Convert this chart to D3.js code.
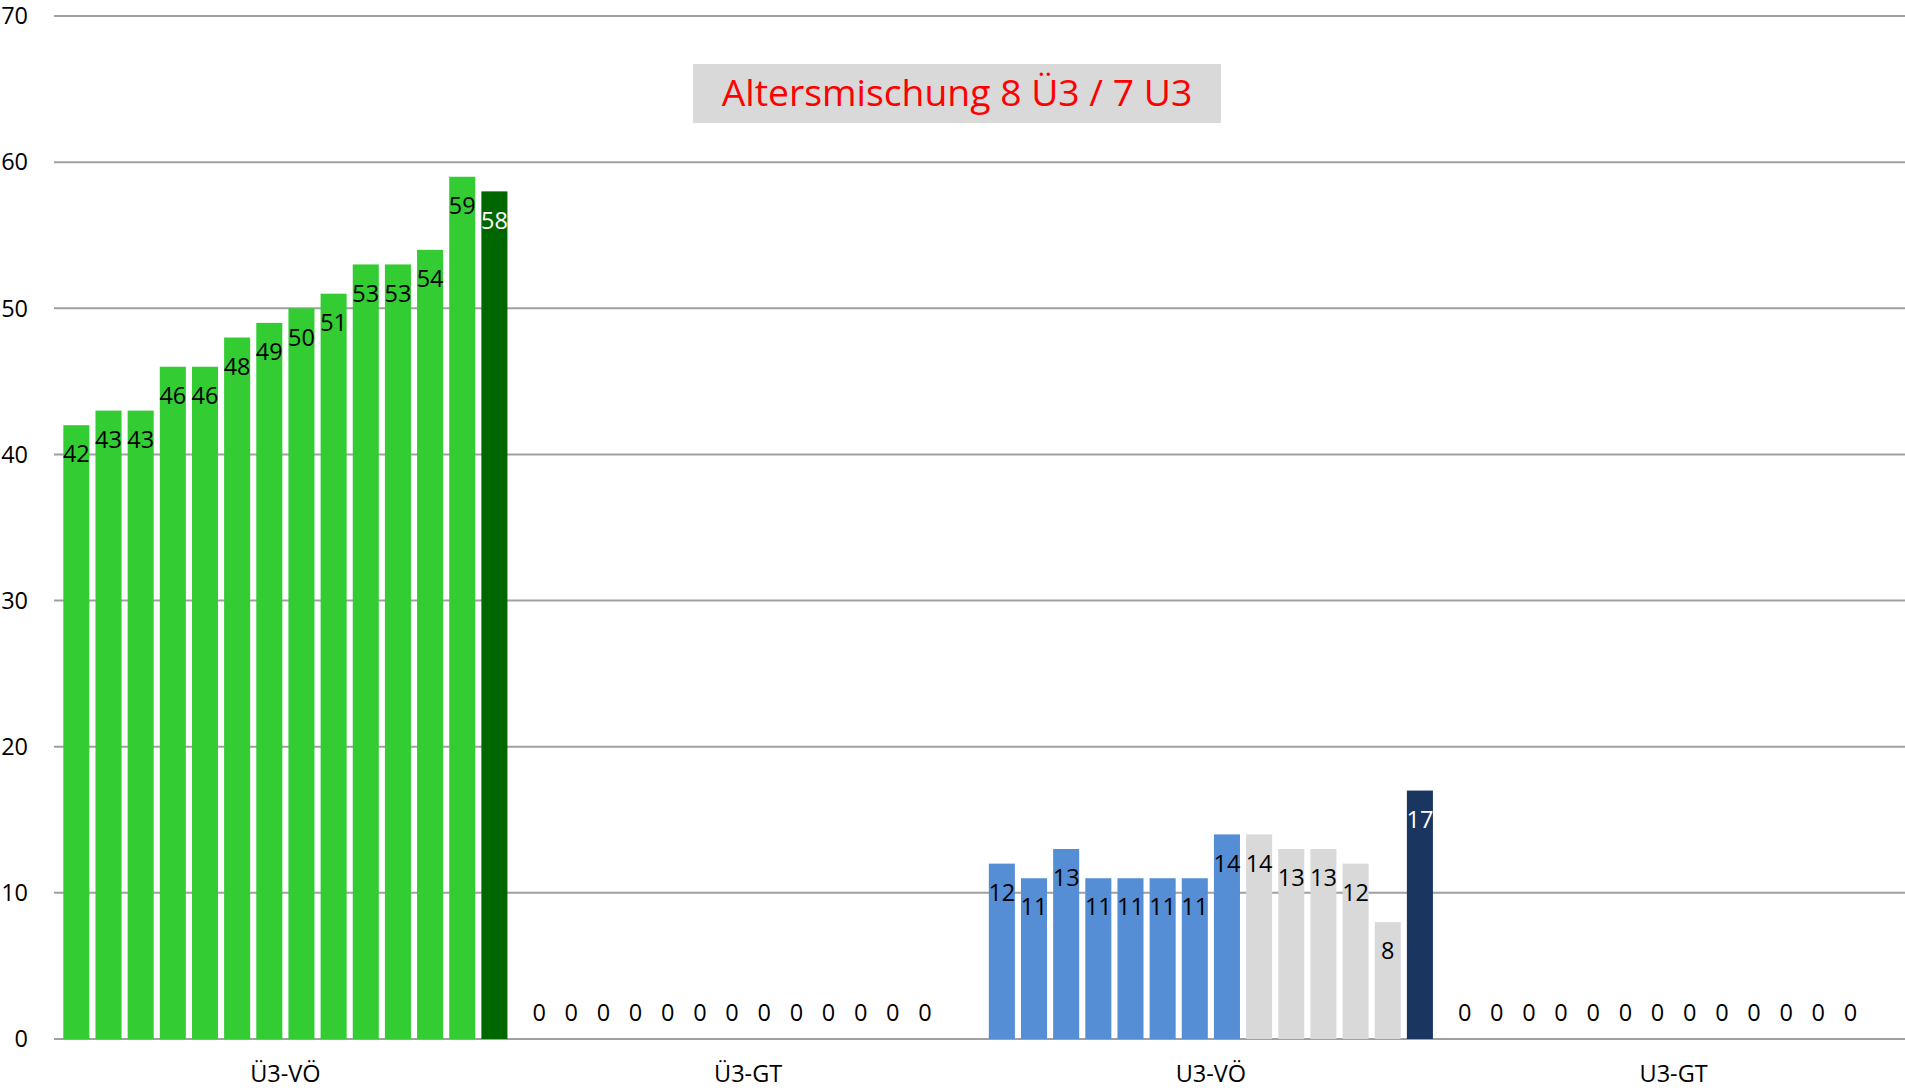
<!DOCTYPE html>
<html>
<head>
<meta charset="utf-8">
<script src="https://cdn.jsdelivr.net/npm/d3@7"></script>
<style>
  body { margin: 0; background: #fff; }
  text { font-family: "Open Sans", "Noto Sans", sans-serif; }
</style>
</head>
<body>
<div id="output"></div>
<script>
    // categories and the 14 values in each
    var categories = ['Ü3-VÖ', 'Ü3-GT', 'U3-VÖ', 'U3-GT'];
    var ue3_voe = [42, 43, 43, 46, 46, 48, 49, 50, 51, 53, 53, 54, 59, 58];
    var ue3_gt = [0, 0, 0, 0, 0, 0, 0, 0, 0, 0, 0, 0, 0, null];
    var u3_voe = [12, 11, 13, 11, 11, 11, 11, 14, 14, 13, 13, 12, 8, 17];
    var u3_gt = [0, 0, 0, 0, 0, 0, 0, 0, 0, 0, 0, 0, 0, null];
    var yTicks = [0, 10, 20, 30, 40, 50, 60, 70];
    var title = 'Altersmischung 8 Ü3 / 7 U3';

    var light_green = '#33cc33', dark_green = '#006600';
    var blue = '#558ed5', grey = '#d9d9d9', navy = '#1a3660';

    var ue3_colors = d3.range(13).map(() => light_green).concat([dark_green]);
    var u3_colors = d3.range(8).map(() => blue)
        .concat(d3.range(5).map(() => grey)).concat([navy]);

    var groups = [
        {cat: categories[0], values: ue3_voe, colors: ue3_colors},
        {cat: categories[1], values: ue3_gt, colors: ue3_colors},
        {cat: categories[2], values: u3_voe, colors: u3_colors},
        {cat: categories[3], values: u3_gt, colors: u3_colors}
    ];

    var width = 1905, height = 1090;
    var plotLeft = 54, plotRight = 1905, plotTop = 16, plotBottom = 1039;

    var svg = d3.select('#output').append('svg')
        .attr('width', width)
        .attr('height', height);

    var y = d3.scaleLinear().domain([0, 70]).range([plotBottom, plotTop]);
    var x0 = d3.scaleBand().domain(categories).range([plotLeft, plotRight]);
    var x1 = d3.scaleBand().domain(d3.range(14))
        .range([0, x0.bandwidth()])
        .paddingInner(0.19)
        .paddingOuter(0.29);

    // gridlines
    svg.append('g').selectAll('line')
        .data(yTicks).enter().append('line')
        .attr('x1', plotLeft).attr('x2', plotRight)
        .attr('y1', d => y(d)).attr('y2', d => y(d))
        .attr('stroke', '#a0a0a0')
        .attr('stroke-width', 2);

    // y axis labels
    svg.append('g').selectAll('text')
        .data(yTicks).enter().append('text')
        .attr('x', 28)
        .attr('y', d => y(d))
        .attr('dy', '0.35em')
        .attr('text-anchor', 'end')
        .attr('font-size', 23.5)
        .attr('fill', '#000')
        .text(d => d);

    // category labels
    svg.append('g').selectAll('text')
        .data(categories).enter().append('text')
        .attr('x', d => x0(d) + x0.bandwidth() / 2)
        .attr('y', 1074)
        .attr('dy', '0.35em')
        .attr('text-anchor', 'middle')
        .attr('font-size', 23.5)
        .attr('fill', '#000')
        .text(d => d);

    // bars + labels
    groups.forEach(g => {
        var pts = g.values.map((v, i) => ({v: v, i: i, c: g.colors[i]}))
            .filter(p => p.v !== null);
        var gg = svg.append('g').attr('transform', 'translate(' + x0(g.cat) + ',0)');

        gg.selectAll('rect')
            .data(pts).enter().append('rect')
            .attr('x', p => x1(p.i))
            .attr('width', x1.bandwidth())
            .attr('y', p => y(p.v))
            .attr('height', p => plotBottom - y(p.v))
            .attr('fill', p => p.c);

        gg.selectAll('text')
            .data(pts).enter().append('text')
            .attr('x', p => x1(p.i) + x1.bandwidth() / 2)
            .attr('y', p => p.v === 0 ? plotBottom - 26 : y(p.v) + 29)
            .attr('dy', '0.35em')
            .attr('text-anchor', 'middle')
            .attr('font-size', 23.5)
            .attr('fill', p => (p.c === dark_green || p.c === navy) ? '#fff' : '#000')
            .text(p => p.v);
    });

    // title box
    svg.append('rect')
        .attr('x', 693).attr('y', 64)
        .attr('width', 528).attr('height', 59)
        .attr('fill', '#d9d9d9');

    svg.append('text')
        .attr('x', 957)
        .attr('y', 106)
        .attr('text-anchor', 'middle')
        .attr('font-size', 37.3)
        .attr('fill', '#ff0000')
        .text(title);
</script>
</body>
</html>
